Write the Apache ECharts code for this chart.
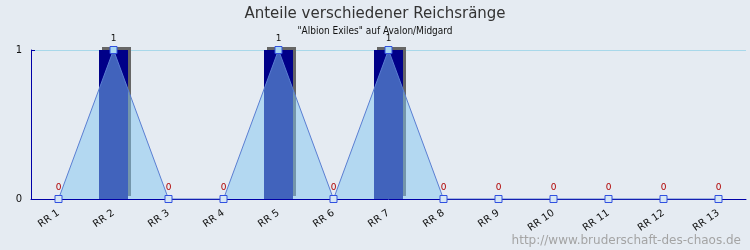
<!DOCTYPE html>
<html><head><meta charset="utf-8">
<script src="https://cdn.jsdelivr.net/npm/echarts@6/dist/echarts.min.js"></script>
<style>html,body{margin:0;padding:0;background:#E5EBF2;}#c{width:750px;height:250px;}</style>
</head><body><div id="c"></div>
<script>
var categories = ["RR 1","RR 2","RR 3","RR 4","RR 5","RR 6","RR 7","RR 8","RR 9","RR 10","RR 11","RR 12","RR 13"];
var values = [0,1,0,0,1,0,1,0,0,0,0,0,0];
var yTicks = [0,1];
var titleText = "Anteile verschiedener Reichsränge";
var subtitleText = "\"Albion Exiles\" auf Avalon/Midgard";
var watermark = "http://www.bruderschaft-des-chaos.de";

var chart = echarts.init(document.getElementById('c'), null, {renderer:'canvas'});
var lineData = values.map(function(v){
  return {value: v, label: {color: v > 0 ? '#111' : '#B00000'},
          itemStyle: {color: v > 0 ? '#A8D6F2' : '#D6E6F4'}};
});
chart.setOption({
  backgroundColor: '#E5EBF2',
  animation: false,
  title: [
    {text: titleText, left: 'center', top: 2, textStyle: {fontFamily: 'DejaVu Sans', fontSize: 15, fontWeight: 'normal', color: '#333'}},
    {text: subtitleText, left: 'center', top: 21, textStyle: {fontFamily: 'DejaVu Sans Condensed, DejaVu Sans', fontSize: 10, fontWeight: 'normal', color: '#111'}}
  ],
  graphic: [{type: 'text', right: 9, bottom: 3, style: {text: watermark, font: '12px "DejaVu Sans"', fill: '#A4A4A4'}}],
  grid: {left: 31, right: 4, top: 50, bottom: 51},
  xAxis: {
    type: 'category', data: categories, boundaryGap: true,
    axisLine: {lineStyle: {color: '#0000A8', width: 1}},
    axisTick: {inside: true, length: 5, lineStyle: {color: '#0000A8'}},
    axisLabel: {rotate: 35, fontSize: 10, color: '#111', fontFamily: 'DejaVu Sans', margin: 13}
  },
  yAxis: {
    type: 'value', min: yTicks[0], max: yTicks[yTicks.length-1], interval: 1,
    axisLine: {show: true, lineStyle: {color: '#0000A8', width: 1}},
    axisTick: {show: true, inside: true, length: 4, lineStyle: {color: '#0000A8'}},
    axisLabel: {fontSize: 10, color: '#111', fontFamily: 'DejaVu Sans', margin: 9},
    splitLine: {lineStyle: {color: '#A8D8EA', width: 1}}
  },
  series: [
    {type: 'bar', data: values, barWidth: 29,
     itemStyle: {color: '#000088', shadowColor: '#666666', shadowBlur: 0, shadowOffsetX: 3, shadowOffsetY: -3}},
    {type: 'line', data: lineData, symbol: 'rect', symbolSize: 7,
     lineStyle: {color: '#5A7ED2', width: 1},
     itemStyle: {color: '#A8D6F2', borderColor: '#3050E0', borderWidth: 1},
     areaStyle: {color: 'rgb(130,198,240)', opacity: 0.5},
     label: {show: true, position: 'top', distance: 3, fontSize: 9, fontFamily: 'DejaVu Sans'}}
  ]
});
</script></body></html>
